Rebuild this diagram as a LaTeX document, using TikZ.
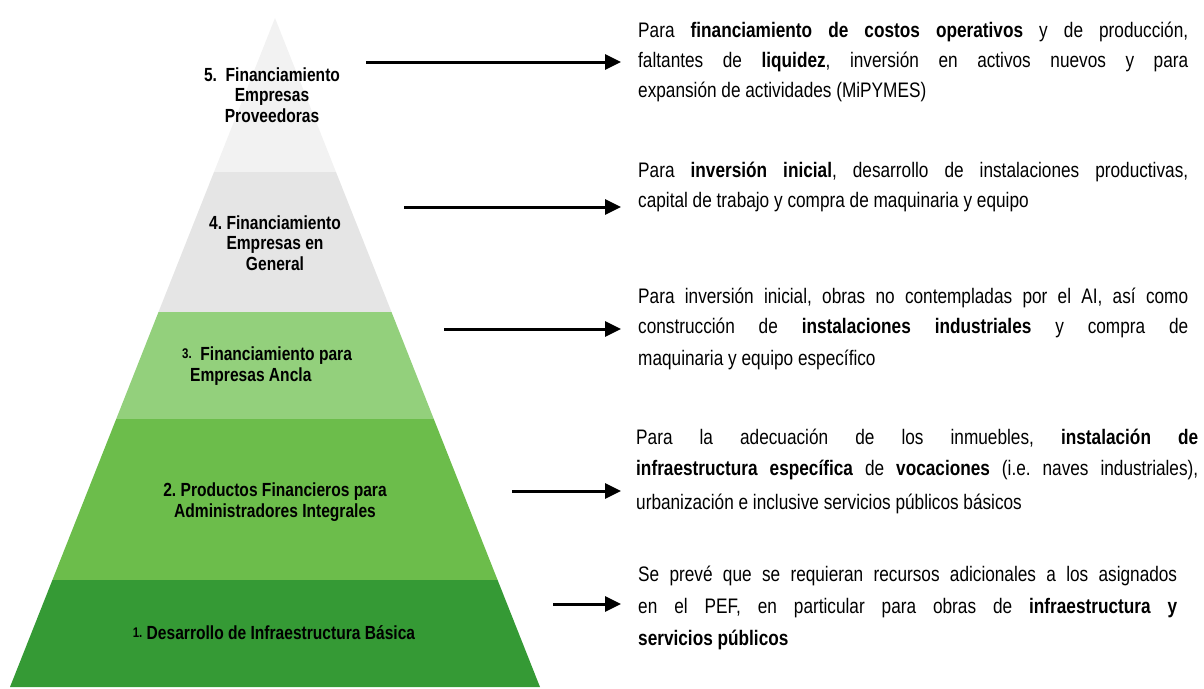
\documentclass[tikz,border=0pt]{standalone}
\usepackage{fontspec}
\setmainfont{Liberation Sans}[FakeStretch=0.82]
\usetikzlibrary{arrows.meta}
\definecolor{bandfive}{HTML}{F2F2F2}
\definecolor{bandfour}{HTML}{E5E5E5}
\definecolor{bandthree}{HTML}{93D07C}
\definecolor{bandtwo}{HTML}{6CBD4B}
\definecolor{bandone}{HTML}{359A35}
\newcommand{\jl}[2]{\makebox[#1][s]{#2}}
\newcommand{\smnum}[1]{\raisebox{2pt}{\fontsize{14}{14}\selectfont #1}}
\frenchspacing
\begin{document}
\begin{tikzpicture}[x=1pt,y=-1pt,
  arr/.style={line width=3pt,-{Triangle[length=16pt,width=15pt]}},
  lbl/.style={font=\fontsize{19}{20.5}\selectfont\bfseries, align=center, inner sep=0pt},
  txt/.style={font=\fontsize{21}{30}\selectfont, anchor=base west, inner sep=0pt}]
\useasboundingbox (0,0) rectangle (1204,688);
% pyramid bands
\fill[bandfive]  (275,18) -- (336.0,172) -- (214.0,172) -- cycle;
\fill[bandfour]  (214.0,172) -- (336.0,172) -- (391.5,312) -- (158.5,312) -- cycle;
\fill[bandthree] (158.5,312) -- (391.5,312) -- (433.8,419) -- (116.2,419) -- cycle;
\fill[bandtwo]   (116.2,419) -- (433.8,419) -- (497.6,580) -- (52.4,580) -- cycle;
\fill[bandone]   (52.4,580) -- (497.6,580) -- (540,687) -- (10,687) -- cycle;
% labels
\node[lbl] (l5) at (272,95) {5.\ \ Financiamiento\\Empresas\\Proveedoras};
\node[lbl] (l4) at (275,243) {4. Financiamiento\\Empresas en\\General};
\node[lbl, align=left, anchor=west] (l3) at (182,366) {\smnum{3.}\ \ Financiamiento para\\\hspace*{8pt}Empresas Ancla};
\node[lbl] (l2) at (275,502) {2. Productos Financieros para\\Administradores Integrales};
\node[lbl] (l1) at (274,633) {\smnum{1.}\ Desarrollo de Infraestructura Básica};
% arrow coordinates
\coordinate (a5s) at (366,62);  \coordinate (a5e) at (621,62);
\coordinate (a4s) at (404,207); \coordinate (a4e) at (621,207);
\coordinate (a3s) at (444,329); \coordinate (a3e) at (621,329);
\coordinate (a2s) at (512,491); \coordinate (a2e) at (621,491);
\coordinate (a1s) at (553,604); \coordinate (a1e) at (621,604);
\draw[arr] (a5s) -- (a5e);
\draw[arr] (a4s) -- (a4e);
\draw[arr] (a3s) -- (a3e);
\draw[arr] (a2s) -- (a2e);
\draw[arr] (a1s) -- (a1e);
% text blocks
\node[txt] (t51) at (638,37) {\jl{550pt}{Para \textbf{financiamiento de costos operativos} y de producción,}};
\node[txt] (t52) at (638,67) {\jl{550pt}{faltantes de \textbf{liquidez}, inversión en activos nuevos y para}};
\node[txt] (t53) at (638,97) {expansión de actividades (MiPYMES)};
\node[txt] (t41) at (638,177) {\jl{550pt}{Para \textbf{inversión inicial}, desarrollo de instalaciones productivas,}};
\node[txt] (t42) at (638,207) {capital de trabajo y compra de maquinaria y equipo};
\node[txt] (t31) at (638,303) {\jl{550pt}{Para inversión inicial, obras no contempladas por el AI, así como}};
\node[txt] (t32) at (638,333) {\jl{550pt}{construcción de \textbf{instalaciones industriales} y compra de}};
\node[txt] (t33) at (638,365) {maquinaria y equipo específico};
\node[txt] (t21) at (636,444) {\jl{562pt}{Para la adecuación de los inmuebles, \textbf{instalación de}}};
\node[txt] (t22) at (636,475) {\jl{562pt}{\textbf{infraestructura específica} de \textbf{vocaciones} (i.e. naves industriales),}};
\node[txt] (t23) at (636,509) {urbanización e inclusive servicios públicos básicos};
\node[txt] (t11) at (638,581) {\jl{539pt}{Se prevé que se requieran recursos adicionales a los asignados}};
\node[txt] (t12) at (638,613) {\jl{539pt}{en el PEF, en particular para obras de \textbf{infraestructura y}}};
\node[txt] (t13) at (638,645) {\textbf{servicios públicos}};
\end{tikzpicture}
\end{document}
